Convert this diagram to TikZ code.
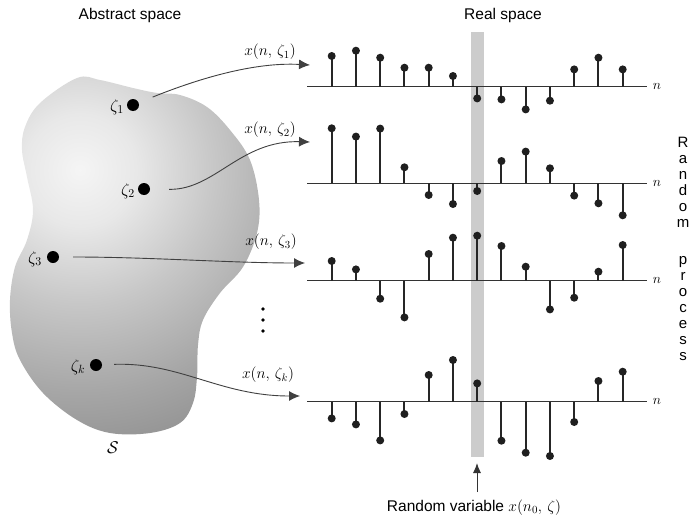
\RequirePackage{fix-cm}
\documentclass[tikz,border=0pt]{standalone}
\usepackage{fontspec}
\setmainfont{Liberation Sans}
\usetikzlibrary{arrows.meta}
\pgfdeclareradialshading{blobshade}{\pgfpointorigin}{color(0bp)=(black!4); color(5bp)=(black!9); color(12bp)=(black!22); color(20bp)=(black!35); color(25bp)=(black!42); color(50bp)=(black!42)}
\newcommand\stemrow[2]{%
  \draw[axisline] (307,#1) -- (647,#1);
  \foreach \v [count=\i] in {#2}{%
    \draw[stemline] ({331.7+24.25*(\i-1)},#1) -- ++(0,-\v);
    \fill[black!88] ({331.7+24.25*(\i-1)},{#1-\v}) circle (4pt);
  }%
}
\begin{document}
\begin{tikzpicture}[x=1pt,y=-1pt,
  axisline/.style={draw=black!80,line width=1.5pt},
  stemline/.style={draw=black!85,line width=2pt},
  conn/.style={draw=black!75,line width=0.9pt,-{Latex[length=11pt,width=10pt]}},
  zdot/.style={circle,fill=black,minimum size=12pt,inner sep=0pt},
  mlabel/.style={font=\fontsize{15.5}{18}\selectfont,inner sep=0pt},
  slabel/.style={font=\fontsize{15.5}{18}\selectfont,inner sep=0pt},
  nlabel/.style={font=\fontsize{14}{16}\selectfont,inner sep=0pt}]
\useasboundingbox (0,0) rectangle (696,514);
% blob
\begin{scope}
\clip plot[smooth cycle, tension=0.6] coordinates {(77,78) (100,80) (133,88) (157,93) (180,95) (207,107) (230,130) (250,160) (259,200) (257,233) (243,267) (220,293) (203,320) (198,345) (197,377) (193,403) (180,423) (150,433) (110,433) (77,420) (43,393) (20,360) (12,333) (10,300) (15,267) (27,240) (33,210) (27,177) (22,150) (25,127) (40,103)};
\shade[shading=blobshade] (80,170) circle (280pt);
\end{scope}
% titles
\node[slabel] (abs) at (130,15) {Abstract space};
\node[slabel] (real) at (503,15) {Real space};
\node[font=\fontsize{17}{19}\selectfont] (S) at (113,448) {$\mathcal{S}$};
% band
\fill[black!20] (471,32) rectangle (484,457);
% stem rows
\stemrow{86.7}{30.7,36,29,19,19,10.7,-11.7,-12.7,-22.7,-14,17.3,29,17.3}
\stemrow{183.3}{55,46.7,54.7,16,-11.7,-20.7,-7.7,22.3,31.7,15,-12.3,-20,-32}
\stemrow{280.7}{19.7,11.3,-18,-36.7,26.7,43,45,34.7,14,-28.7,-17,9,35.7}
\stemrow{401.7}{-16.7,-22.7,-38.7,-12.3,26.7,41.7,18.3,-39,-51,-54.3,-20.3,20.7,30}
\node[nlabel] (n1) at (657,86.7) {$n$};
\node[nlabel] (n2) at (657,183.3) {$n$};
\node[nlabel] (n3) at (657,280.7) {$n$};
\node[nlabel] (n4) at (657,401.7) {$n$};
% zeta points
\node[zdot] (d1) at (133,105) {};
\node[zdot] (d2) at (144,189) {};
\node[zdot] (d3) at (53,257) {};
\node[zdot] (d4) at (96,365) {};
\node[mlabel,font=\fontsize{17}{19}\selectfont] (z1) at (117,107) {$\zeta_1$};
\node[mlabel,font=\fontsize{17}{19}\selectfont] (z2) at (128,191) {$\zeta_2$};
\node[mlabel,font=\fontsize{17}{19}\selectfont] (z3) at (35,259) {$\zeta_3$};
\node[mlabel,font=\fontsize{17}{19}\selectfont] (z4) at (78,367) {$\zeta_k$};
% targets
\coordinate (t1) at (310,65);
\coordinate (t2) at (310,142);
\coordinate (t3) at (305,263);
\coordinate (t4) at (300,396);
\draw[conn,shorten <=15pt] (d1) .. controls (200,78) and (255,62) .. (t1);
\draw[conn,shorten <=19pt] (d2) .. controls (215,190) and (240,140) .. (t2);
\draw[conn,shorten <=14pt] (d3) .. controls (150,257) and (230,263) .. (t3);
\draw[conn,shorten <=12pt] (d4) .. controls (180,362) and (220,396) .. (t4);
\node[mlabel] (x1) at (270,52) {$x(n,\,\zeta_1)$};
\node[mlabel] (x2) at (270,130) {$x(n,\,\zeta_2)$};
\node[mlabel] (x3) at (271,242) {$x(n,\,\zeta_3)$};
\node[mlabel] (x4) at (268,375) {$x(n,\,\zeta_k)$};
% vertical dots
\fill (263,309) circle (1.8pt);
\fill (263,320) circle (1.8pt);
\fill (263,331) circle (1.8pt);
% random process
\node[anchor=north,align=center,inner sep=0pt,font=\fontsize{15}{16}\selectfont] (rp) at (683,137) {R\\a\\n\\d\\o\\m\\[21pt]p\\r\\o\\c\\e\\s\\s};
% random variable
\node[slabel,anchor=base] (rv) at (474,511) {Random variable $x(n_0,\,\zeta)$};
\coordinate (bs) at (477,492);
\coordinate (bt) at (477,463);
\draw[draw=black!80,line width=1pt,-{Latex[length=10pt,width=8pt]}] (bs) -- (bt);
\end{tikzpicture}
\end{document}
